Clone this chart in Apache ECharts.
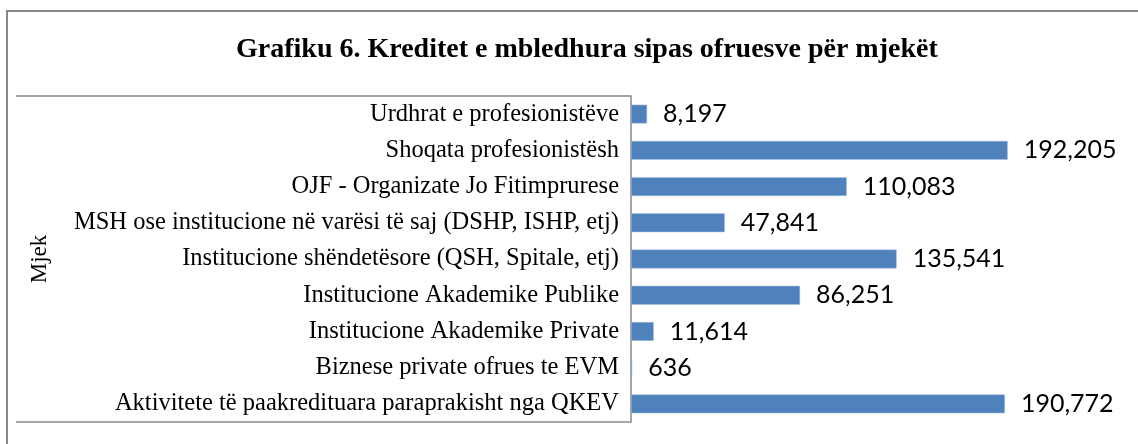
<!DOCTYPE html>
<html>
<head>
<meta charset="utf-8">
<script src="https://cdn.jsdelivr.net/npm/echarts@6/dist/echarts.min.js"></script>
<style>
  html, body { margin: 0; padding: 0; background: #fff; }
  #chart { width: 1138px; height: 444px; }
</style>
</head>
<body>
<div id="chart"></div>
<script>
const categories = [
  "Urdhrat e profesionistëve",
  "Shoqata profesionistësh",
  "OJF - Organizate Jo Fitimprurese",
  "MSH ose institucione në varësi të saj (DSHP, ISHP, etj)",
  "Institucione shëndetësore (QSH, Spitale, etj)",
  "Institucione Akademike Publike",
  "Institucione Akademike Private",
  "Biznese private ofrues te EVM",
  "Aktivitete të paakredituara paraprakisht nga QKEV"
];
const credits = [8197, 192205, 110083, 47841, 135541, 86251, 11614, 636, 190772];
const groupLabels = ["Mjek"];

const chart = echarts.init(document.getElementById("chart"));

const option = {
  animation: false,
  title: {
    text: "Grafiku 6. Kreditet e mbledhura sipas ofruesve për mjekët",
    left: 231,
    top: 31,
    textStyle: {
      fontFamily: "Liberation Serif",
      fontSize: 28,
      fontWeight: "bold",
      color: "#000"
    }
  },
  graphic: [
    {
      type: "rect",
      shape: { x: 7, y: 11, width: 1300, height: 600 },
      style: { fill: "none", stroke: "#888", lineWidth: 2 },
      silent: true
    }
  ],
  grid: {
    left: 631,
    right: 115,
    top: 96,
    bottom: 22,
    containLabel: false
  },
  xAxis: {
    type: "value",
    min: 0,
    max: 200000,
    show: false
  },
  yAxis: [
    {
      type: "category",
      data: categories,
      inverse: true,
      axisLine: { show: true, lineStyle: { color: "#888", width: 1.5 } },
      axisTick: { show: false },
      axisLabel: {
        margin: 12,
        fontFamily: "Liberation Serif",
        fontSize: 24.5,
        color: "#000"
      }
    },
    {
      type: "category",
      data: groupLabels,
      position: "left",
      offset: 615,
      axisLine: { show: false },
      axisTick: {
        show: true,
        inside: true,
        length: 615,
        lineStyle: { color: "#888", width: 1.5 }
      },
      axisLabel: {
        inside: true,
        rotate: 90,
        margin: 12,
        fontFamily: "Liberation Serif",
        fontSize: 23,
        color: "#000"
      }
    }
  ],
  series: [
    {
      type: "bar",
      yAxisIndex: 0,
      data: credits,
      barWidth: "52%",
      itemStyle: { color: "#4F81BD", borderColor: "#A7C0DE", borderWidth: 0.5 },
      label: {
        show: true,
        position: "right",
        distance: 16,
        fontFamily: "Lato",
        fontSize: 25,
        color: "#000",
        formatter: p => p.value.toLocaleString("en-US")
      }
    }
  ]
};

chart.setOption(option);
</script>
</body>
</html>
